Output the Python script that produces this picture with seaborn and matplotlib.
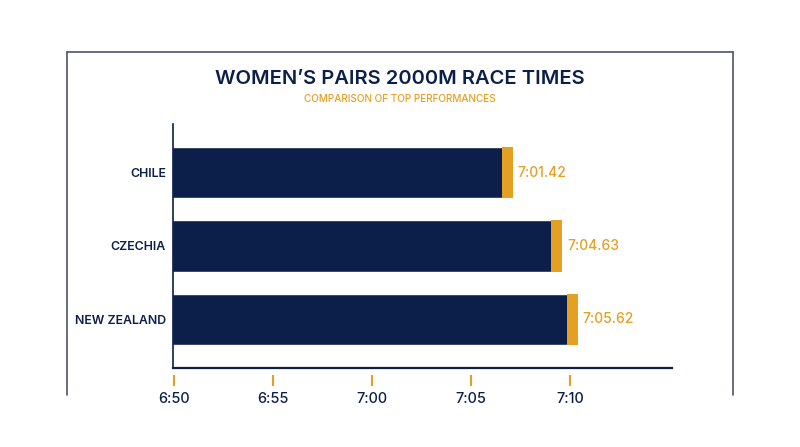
import numpy as np
import matplotlib
matplotlib.use("Agg")
import matplotlib.pyplot as plt
from matplotlib.lines import Line2D
from matplotlib.ticker import FuncFormatter
import seaborn as sns

countries = ["CHILE", "CZECHIA", "NEW ZEALAND"]
times = [421.42, 424.63, 425.62]          # seconds, 7:01.42 etc
axis_ticks = [410, 415, 420, 425, 430]    # 6:50 ... 7:10
cap = 0.72

navy = "#0c1f4a"
gold = "#e4a023"
frame_col = "#4d5170"

sns.set_theme(style="white")
plt.rcParams["font.family"] = ["Inter", "DejaVu Sans"]

fig = plt.figure(figsize=(8, 4.47), dpi=100)
ax = fig.add_axes([173 / 800, 1 - 368 / 447, 499 / 800, 244 / 447])

sns.barplot(x=times, y=countries, orient="h", color=navy, width=0.7,
            saturation=1, ax=ax)
pos = np.arange(len(countries))
t = np.array(times)
ax.barh(pos, cap, left=t - cap, height=0.7, color=gold, linewidth=0)

def fmt_time(s):
    return f"{int(s // 60)}:{s % 60:05.2f}"

for p, v in zip(pos, times):
    ax.text(v + 0.3, p, fmt_time(v), va="center", ha="left",
            color=gold, fontsize=10, fontweight="medium")

ax.set_xlim(399.5, 431.7)
ax.set_ylim(2.66, -0.66)
ax.set_xlabel("")
ax.set_ylabel("")
ax.set_xticks([])
ax.tick_params(axis="y", length=0, pad=5, labelsize=8.9, labelcolor=navy)
for lab in ax.get_yticklabels():
    lab.set_fontweight("semibold")

for s in ["top", "right"]:
    ax.spines[s].set_visible(False)
ax.spines["left"].set_color(navy)
ax.spines["left"].set_linewidth(1.2)
ax.spines["bottom"].set_color(navy)
ax.spines["bottom"].set_linewidth(1.6)

# time axis drawn a little below the plot
P0, K = 399.56, 5 / 6.395
sec = ax.secondary_xaxis(-7 / 244, functions=(lambda p: 410 + (p - P0) * K,
                                              lambda s: P0 + (s - 410) / K))
sec.set_xticks(axis_ticks)
sec.xaxis.set_major_formatter(FuncFormatter(lambda s, _: f"{int(s // 60)}:{int(s % 60):02d}"))
sec.spines["bottom"].set_color("none")
sec.tick_params(axis="x", direction="out", length=8, width=1.5, color=gold,
                pad=4, labelsize=10.4, labelcolor=navy)
for lab in sec.get_xticklabels():
    lab.set_fontweight("medium")

# outer frame (left, top, right)
x0, x1 = 66.7 / 800, 733.3 / 800
y0, y1 = 1 - 395 / 447, 1 - 52 / 447
for xs, ys in [([x0, x0], [y0, y1]), ([x0, x1], [y1, y1]), ([x1, x1], [y1, y0])]:
    fig.add_artist(Line2D(xs, ys, color=frame_col, lw=1.2, transform=fig.transFigure))

fig.text(0.5, 1 - 78.5 / 447, "WOMEN’S PAIRS 2000M RACE TIMES", ha="center",
         va="center", color=navy, fontsize=14.5, fontweight="semibold")
fig.text(0.5, 1 - 98.5 / 447, "COMPARISON OF TOP PERFORMANCES", ha="center",
         va="center", color=gold, fontsize=7.2, fontweight="medium")

fig.savefig("out.png", dpi=100, facecolor="white")
